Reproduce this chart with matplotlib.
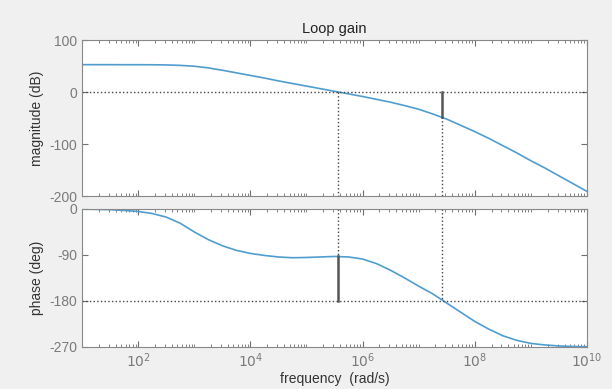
import numpy as np
import matplotlib
matplotlib.use("Agg")
import matplotlib.pyplot as plt
from matplotlib.ticker import FixedLocator, LogLocator, FuncFormatter, NullFormatter

plt.rcParams['font.family'] = ['Liberation Sans', 'DejaVu Sans']
plt.rcParams['axes.unicode_minus'] = False

# frequency grid, log10(rad/s), read at quarter-decade steps
logw = [1.00, 1.25, 1.50, 1.75, 2.00, 2.25, 2.50, 2.75, 3.00, 3.25, 3.50, 3.75,
        4.00, 4.25, 4.50, 4.75, 5.00, 5.25, 5.50, 5.75, 6.00, 6.25, 6.50, 6.75,
        7.00, 7.25, 7.50, 7.75, 8.00, 8.25, 8.50, 8.75, 9.00, 9.25, 9.50, 9.75, 10.00]

mag_db = [52.7, 52.7, 52.7, 52.6, 52.6, 52.5, 52.2, 51.3, 49.7, 46.5, 42.0, 37.0,
          32.0, 27.0, 21.5, 16.5, 11.5, 6.5, 1.5, -3.5, -8.5, -14.0, -19.5, -26.0,
          -33.0, -42.0, -52.0, -64.0, -76.0, -89.0, -103.0, -117.0, -132.0, -146.0,
          -161.0, -176.0, -191.0]

phase_deg = [-0.5, -1.0, -1.5, -3.0, -5.0, -9.0, -16.0, -28.0, -45.0, -60.0, -72.0, -81.0,
             -87.0, -91.0, -94.0, -95.5, -95.0, -94.0, -93.0, -94.0, -98.0, -107.0, -120.0, -135.0,
             -151.0, -166.0, -184.0, -202.0, -220.0, -235.0, -248.0, -257.0, -263.0, -266.0,
             -268.0, -269.0, -269.5]

xtick_exp = [2, 4, 6, 8, 10]

# margins
w_c = 3.6e5      # gain crossover
w_180 = 2.6e7    # phase crossover
gain_at_w180 = -48
phase_at_wc = -93

w = 10.0 ** np.array(logw)

fig = plt.figure(figsize=(6.12, 3.89), dpi=100, facecolor='#f0f0f0')
ax1 = fig.add_axes([0.134, 0.496, 0.825, 0.401])
ax2 = fig.add_axes([0.134, 0.108, 0.825, 0.355])

line_c = '#4f9dcf'
dot_c = '#444444'
tick_c = '#6e6e6e'

ax1.semilogx(w, mag_db, color=line_c, lw=1.2)
ax1.axhline(0, color=dot_c, ls=':', lw=1)
ax1.plot([w_c, w_c], [0, -200], color=dot_c, ls=':', lw=1)
ax1.plot([w_180, w_180], [gain_at_w180, -200], color=dot_c, ls=':', lw=1)
ax1.plot([w_180, w_180], [0, gain_at_w180], color='#555555', lw=1.8)
ax1.set_ylim(-200, 100)
ax1.set_yticks([-200, -100, 0, 100])
ax1.set_ylabel('magnitude (dB)', fontsize=10, color='#333333')
ax1.set_title('Loop gain', fontsize=10.5, color='#222222', pad=5)

ax2.semilogx(w, phase_deg, color=line_c, lw=1.2)
ax2.axhline(-180, color=dot_c, ls=':', lw=1)
ax2.plot([w_c, w_c], [0, phase_at_wc], color=dot_c, ls=':', lw=1)
ax2.plot([w_180, w_180], [0, -180], color=dot_c, ls=':', lw=1)
ax2.plot([w_c, w_c], [phase_at_wc, -180], color='#555555', lw=1.8)
ax2.set_ylim(-270, 0)
ax2.set_yticks([-270, -180, -90, 0])
ax2.set_ylabel('phase (deg)', fontsize=10, color='#333333')
ax2.set_xlabel('frequency  (rad/s)', fontsize=10, color='#333333', labelpad=1)

for ax in (ax1, ax2):
    ax.set_xlim(1e1, 1e10)
    ax.set_facecolor('white')
    ax.xaxis.set_major_locator(FixedLocator([10.0 ** e for e in xtick_exp]))
    ax.xaxis.set_minor_locator(LogLocator(base=10.0, subs=np.arange(1, 10), numticks=40))
    ax.xaxis.set_minor_formatter(NullFormatter())
    ax.tick_params(which='both', direction='in', top=True, right=True, colors=tick_c,
                   labelsize=10, labelcolor='#7a7a7a')
    ax.tick_params(which='major', length=4)
    ax.tick_params(which='minor', length=2)
    for s in ax.spines.values():
        s.set_color('#888888')
        s.set_linewidth(0.8)

ax1.xaxis.set_major_formatter(NullFormatter())
ax2.xaxis.set_major_formatter(FuncFormatter(lambda v, p: r'$10^{%d}$' % round(np.log10(v))))

fig.savefig('out.png', dpi=100, facecolor=fig.get_facecolor())
